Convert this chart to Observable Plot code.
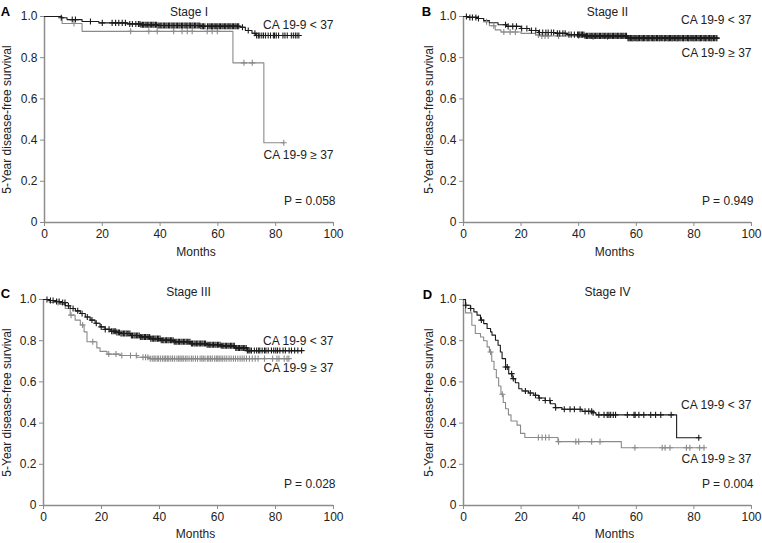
<!DOCTYPE html>
<html><head><meta charset="utf-8">
<script src="https://cdn.jsdelivr.net/npm/d3@7"></script>
<script src="https://cdn.jsdelivr.net/npm/@observablehq/plot@0.6"></script>
<style>
body{margin:0;background:#fff;}
#wrap{position:relative;width:762px;height:543px;overflow:hidden;background:#fff;}
.panel{position:absolute;}
</style></head><body><div id="wrap"></div>
<script>
// ---------- shared labels ----------
const xTicks = [0, 20, 40, 60, 80, 100];
const yTicks = [0, 0.2, 0.4, 0.6, 0.8, 1.0];
const seriesNames = ["CA 19-9 < 37", "CA 19-9 ≥ 37"];
const panelLetters = ["A", "B", "C", "D"];
const stageTitles = ["Stage I", "Stage II", "Stage III", "Stage IV"];
const pValues = ["P = 0.058", "P = 0.949", "P = 0.028", "P = 0.004"];
const yTitle = "5-Year disease-free survival";
const xTitle = "Months";

// ---------- Stage I ----------
const s1LowTime = [0, 5.8, 7.8, 13, 18.8, 28.6, 33.2, 39, 54, 67.8, 69.5, 71.8, 73, 88];
const s1LowSurv = [1, 0.994, 0.985, 0.976, 0.969, 0.964, 0.96, 0.956, 0.953, 0.948, 0.932, 0.919, 0.908, 0.908];
const s1LowCensor = [5.8, 9.6, 10.7, 15.9, 20, 23.4, 24.6, 25.7, 26.9, 28, 29.5, 30.4, 31.6, 32.5,
  33.0, 33.4, 33.9, 34.3, 34.8, 35.2, 35.7, 36.1, 36.6, 37.0, 37.5, 37.9, 38.4, 38.8, 39.3, 39.7, 40.2, 40.6, 41.1, 41.5,
  42.0, 42.4, 42.9, 43.3, 43.8, 44.2, 44.7, 45.1, 45.6, 46.0, 46.5, 46.9, 47.4, 47.8, 48.3, 48.7, 49.2, 49.6, 50.1, 50.5,
  51.0, 51.4, 51.9, 52.3, 52.8, 53.2, 53.7, 54.1, 54.6, 55.0, 55.5, 56.4, 56.9, 57.3, 57.8, 58.2, 58.7, 59.1, 59.6, 60.0,
  60.5, 60.9, 61.4, 61.8, 62.3, 62.7, 63.2, 63.6, 64.1, 64.5, 65.0, 65.4, 65.9, 66.3, 66.8, 67.2,
  68.5, 70.5, 72.8, 73.4, 74.0, 74.5, 75.2, 75.8, 76.5, 77.4, 78.2, 79.2, 79.6, 80.2, 81, 82.5, 83.2, 84, 85.4, 86.1, 86.8, 87.4, 88];
const s1HighTime = [0, 6.1, 13, 65.2, 75.9, 82.8];
const s1HighSurv = [1, 0.966, 0.928, 0.775, 0.387, 0.387];
const s1HighCensor = [10.2, 29.8, 36.1, 39, 44.7, 47.6, 49.4, 51.1, 56.3, 58, 59.8, 69, 71.9, 82.8];

// ---------- Stage II ----------
const s2LowTime = [0, 2, 5, 7, 9, 12, 15, 20, 23, 26, 32, 36, 42, 57, 88];
const s2LowSurv = [1, 0.995, 0.99, 0.98, 0.97, 0.96, 0.952, 0.942, 0.932, 0.922, 0.918, 0.912, 0.906, 0.895, 0.895];
const s2LowCensor = [1, 2.2, 3.1, 4.3, 5.2, 14.6, 15.5, 17.1, 18.4, 20.2, 22, 23.6, 25.1, 26.4, 27.5, 28.6, 29.4, 30.5, 31.3,
  32.6, 33.4, 34.5, 35.3, 36.6, 37.4, 38.5, 39.6,
  40.0, 40.4, 40.9, 41.3, 41.8, 42.2, 42.7, 43.1, 43.6, 44.0, 44.5, 44.9, 45.4, 45.8, 46.3, 46.7, 47.2, 47.6, 48.1, 48.5,
  49.0, 49.4, 49.9, 50.3, 50.8, 51.2, 51.7, 52.1, 52.6, 53.0, 53.5, 53.9, 54.4, 54.8, 55.3, 55.7, 56.2, 56.6, 57.1, 57.5,
  58.0, 58.4, 58.9, 59.3, 59.8, 60.2, 60.7, 61.1, 61.6, 62.0, 62.5, 62.9, 63.4, 63.8, 64.3, 64.7, 65.2, 65.6, 66.1, 66.5,
  67.0, 67.4, 67.9, 68.3, 68.8, 69.2, 69.7, 70.1, 70.6, 71.0, 71.5, 71.9, 72.4, 72.8, 73.3, 73.7, 74.2, 74.6, 75.1, 75.5,
  76.0, 76.4, 76.9, 77.3, 77.8, 78.2, 78.7, 79.1, 79.6, 80.0, 80.5, 80.9, 81.4, 81.8, 82.3, 82.7, 83.2, 83.6, 84.1, 84.5,
  85.0, 85.4, 85.9, 86.3, 86.8, 87.2, 87.7, 88];
const s2HighTime = [0, 5, 7, 9, 11, 13, 20, 25, 27, 42, 57, 86];
const s2HighSurv = [1, 0.99, 0.975, 0.955, 0.935, 0.925, 0.918, 0.91, 0.905, 0.9, 0.893, 0.893];
const s2HighCensor = [8, 10.5, 14, 16.2, 18, 26, 27.2, 28.3, 29.4, 33, 40, 45, 50, 57.5, 58.6, 60.3, 62.2, 64, 66.1, 68, 69.8, 71.2, 72.4, 74.1, 76.3, 78.2, 80, 82.1, 84, 86];

// ---------- Stage III ----------
const s3LowTime = [0, 2, 4, 5.8, 7.5, 9.2, 11, 12.7, 14.4, 16.1, 17.8, 19.5, 21.2, 23, 25, 26.5, 30, 33.4, 37, 40.3, 45, 50.6, 56, 61, 66, 70.2, 89];
const s3LowSurv = [1, 0.995, 0.99, 0.985, 0.97, 0.956, 0.945, 0.932, 0.915, 0.9, 0.885, 0.867, 0.855, 0.846, 0.84, 0.835, 0.825, 0.818, 0.81, 0.802, 0.795, 0.786, 0.78, 0.775, 0.765, 0.752, 0.752];
const s3LowCensor = [1.2, 2.4, 3.3, 4.5, 5.4, 6.6, 7.4, 8.6, 10.2, 11.8, 13.3, 15.1, 16.7, 18.2, 19.9, 21.3, 22.6, 23.5,
  24.0, 24.4, 24.9, 25.3, 25.8, 26.2, 26.7, 27.1, 27.6, 28.0, 28.5, 28.9, 29.4, 29.8, 30.3, 30.7, 31.2, 31.6, 32.1, 32.5,
  33.0, 33.4, 33.9, 34.3, 34.8, 35.2, 35.7, 36.1, 36.6, 37.0, 37.5, 37.9, 38.4, 38.8, 39.3, 39.7, 40.2, 40.6, 41.1, 41.5,
  42.0, 42.4, 42.9, 43.3, 43.8, 44.2, 44.7, 45.1, 45.6, 46.0, 46.5, 46.9, 47.4, 47.8, 48.3, 48.7, 49.2, 49.6, 50.1, 50.5,
  51.0, 51.4, 51.9, 52.3, 52.8, 53.2, 53.7, 54.1, 54.6, 55.0, 55.5, 55.9, 56.4, 56.8, 57.3, 57.7, 58.2, 58.6, 59.1, 59.5,
  60.0, 60.4, 60.9, 61.3, 61.8, 62.2, 62.7, 63.1, 63.6, 64.0, 64.5, 64.9, 65.4, 65.8, 66.3, 66.7, 67.2, 67.6, 68.1, 68.5,
  69.0, 69.4, 69.9, 70.3, 70.8, 71.2, 71.7,
  72.7, 73.5, 74.2, 74.6, 75.4, 76.2, 76.7, 77.5, 78.6, 79.4, 80.1, 80.7, 81.5, 82.6, 83.4, 84.7, 85.5, 86.6, 87.7, 89];
const s3HighTime = [0, 2, 5.8, 7.5, 9.2, 10.9, 12.7, 14, 15, 18.4, 19.5, 21.9, 26.5, 32.2, 36.8, 84.6];
const s3HighSurv = [1, 0.986, 0.976, 0.956, 0.924, 0.9, 0.876, 0.843, 0.795, 0.765, 0.748, 0.735, 0.728, 0.72, 0.713, 0.713];
const s3HighCensor = [5, 9.5, 13.5, 17, 22.5, 25, 27, 30, 32, 34.3, 35.2, 36, 36.8, 37.5, 38.1, 38.5, 39.2, 39.6, 40.3, 41,
  41.6, 42.1, 42.7, 43.2, 43.9, 44.5, 45.2, 46, 46.6, 47.1, 47.7, 48.2, 48.9, 49.5, 50.2, 51, 51.6, 52.4, 53.1, 54, 54.6,
  55.1, 55.7, 56.5, 57, 57.6, 58.2, 59, 59.6, 60.1, 60.6, 61.2, 61.8, 62.5, 63.2, 64, 64.7, 65.5, 66.2, 67, 67.8, 68.5,
  69.2, 70, 71, 72, 73, 74, 76.2, 79, 80.5, 81.2, 83, 84, 84.6];

// ---------- Stage IV ----------
const s4LowTime = [0, 0.7, 2.4, 3.6, 4.7, 5.9, 7, 8.2, 9.4, 9.9, 11.1, 12, 12.8, 13.4, 14.6, 15.7, 16.9, 18, 19.2, 20.3, 22.6, 24.4, 26.1, 28.4, 30.2, 31.9, 34.2, 41.1, 44.6, 46, 74, 82.1];
const s4LowSurv = [1, 0.972, 0.956, 0.94, 0.924, 0.9, 0.883, 0.859, 0.843, 0.827, 0.802, 0.778, 0.745, 0.713, 0.672, 0.64, 0.616, 0.596, 0.567, 0.556, 0.546, 0.535, 0.522, 0.51, 0.494, 0.475, 0.467, 0.457, 0.45, 0.44, 0.329, 0.329];
const s4LowCensor = [0.8, 2.5, 6.2, 14.6, 15.2, 16.7, 17.3, 21.5, 23.2, 25, 26.3, 28.4, 30, 32, 35, 37, 38.5, 40.5, 42.2, 43.5, 44.5, 45, 47, 48.8, 49.9, 50.5, 51.1, 52, 52.8, 56.9, 59.2, 59.6, 60.9, 62.6, 65, 66.7, 68.5, 72.1, 81.7];
const s4HighTime = [0, 0.7, 2.9, 4.1, 5.9, 7, 8.2, 9, 9.8, 10.6, 11.4, 12.2, 13, 13.8, 14.6, 15.6, 16.5, 18.6, 19.8, 21.3, 32.8, 54.8, 83.7];
const s4HighSurv = [1, 0.935, 0.875, 0.835, 0.818, 0.8, 0.77, 0.745, 0.7, 0.66, 0.62, 0.58, 0.54, 0.5, 0.47, 0.44, 0.41, 0.39, 0.35, 0.33, 0.31, 0.28, 0.28];
const s4HighCensor = [9.4, 13.5, 26, 27.3, 28.5, 29.7, 33, 39, 40, 44.5, 47.4, 59.5, 69, 70, 71.7, 77.4, 78.6, 82, 83.5];

// ---------- helpers ----------
const stages = [
  {low: [s1LowTime, s1LowSurv, s1LowCensor], high: [s1HighTime, s1HighSurv, s1HighCensor]},
  {low: [s2LowTime, s2LowSurv, s2LowCensor], high: [s2HighTime, s2HighSurv, s2HighCensor]},
  {low: [s3LowTime, s3LowSurv, s3LowCensor], high: [s3HighTime, s3HighSurv, s3HighCensor]},
  {low: [s4LowTime, s4LowSurv, s4LowCensor], high: [s4HighTime, s4HighSurv, s4HighCensor]}
];
function stepAt(times, surv, t) {
  let v = surv[0];
  for (let i = 0; i < times.length; i++) if (times[i] <= t) v = surv[i];
  return v;
}
const FONT = "'Liberation Sans', Arial, Helvetica, sans-serif";
const AXIS = "#8c8c8c";
const INK = "#222";

// layout for each panel (pixel geometry only)
const layouts = [
  {left: 0,   top: 0,   w: 381, h: 270, ml: 44, mr: 48, mt: 16, mb: 48, titleDy: -9,  letterDx: -39, letterDy: -10, yTitleDx: -37, xTitleDy: 33,
   lowLab: 0.956, highLab: 0.325},
  {left: 381, top: 0,   w: 381, h: 270, ml: 82, mr: 11, mt: 16, mb: 48, titleDy: -9,  letterDx: -37, letterDy: -10, yTitleDx: -34, xTitleDy: 33,
   lowLab: 0.98, highLab: 0.82},
  {left: 0,   top: 270, w: 381, h: 273, ml: 43, mr: 48, mt: 29, mb: 38, titleDy: -12, letterDx: -38, letterDy: -11, yTitleDx: -36, xTitleDy: 32,
   lowLab: 0.80, highLab: 0.665},
  {left: 381, top: 270, w: 381, h: 273, ml: 82, mr: 11, mt: 29, mb: 38, titleDy: -12, letterDx: -36, letterDy: -10, yTitleDx: -34, xTitleDy: 32,
   lowLab: 0.486, highLab: 0.227}
];

const wrap = document.getElementById("wrap");

stages.forEach((st, i) => {
  const L = layouts[i];
  const curves = [];
  const censors = [];
  // gray (high) first so black draws on top
  [["high", seriesNames[1]], ["low", seriesNames[0]]].forEach(([key, name]) => {
    const [ts, ss, cs] = st[key];
    ts.forEach((t, j) => curves.push({t, s: ss[j], g: name}));
    cs.forEach(t => censors.push({t, s: stepAt(ts, ss, t), g: name}));
  });
  const labels = [
    {x: 100, y: L.lowLab, text: seriesNames[0]},
    {x: 100, y: L.highLab, text: seriesNames[1]}
  ];
  const chart = Plot.plot({
    width: L.w, height: L.h,
    marginLeft: L.ml, marginRight: L.mr, marginTop: L.mt, marginBottom: L.mb,
    style: {fontFamily: FONT, fontSize: "12px", color: INK, background: "transparent", overflow: "visible"},
    x: {domain: [0, 100]},
    y: {domain: [0, 1]},
    color: {domain: seriesNames, range: ["#1b1b1b", "#8a8a8a"]},
    marks: [
      Plot.axisX({ticks: xTicks, tickSize: 4, tickPadding: 3, stroke: AXIS, fill: INK, label: null, fontSize: 12}),
      Plot.axisY({ticks: yTicks, tickSize: 4, tickPadding: 3, stroke: AXIS, fill: INK, label: null, fontSize: 12,
                  tickFormat: d => d === 0 ? "0" : d.toFixed(1)}),
      Plot.ruleX([0], {stroke: AXIS, strokeWidth: 1.5}),
      Plot.ruleY([0], {stroke: AXIS, strokeWidth: 1.5}),
      Plot.line(curves, {x: "t", y: "s", z: "g", stroke: "g", curve: "step-after", strokeWidth: 1.1}),
      Plot.dot(censors, {x: "t", y: "s", stroke: "g", symbol: "plus", r: 2.1, strokeWidth: 1.1}),
      Plot.text(labels, {x: "x", y: "y", text: "text", textAnchor: "end", fill: INK, fontSize: 12}),
      Plot.text([pValues[i]], {frameAnchor: "bottom-right", dx: 2, dy: -18, textAnchor: "end", fill: INK, fontSize: 12}),
      Plot.text([stageTitles[i]], {frameAnchor: "top", dy: L.titleDy, textAnchor: "middle", fill: INK, fontSize: 12}),
      Plot.text([panelLetters[i]], {frameAnchor: "top-left", dx: L.letterDx, dy: L.letterDy, textAnchor: "middle", fill: "#000", fontSize: 13, fontWeight: "bold"}),
      Plot.text([yTitle], {frameAnchor: "left", dx: L.yTitleDx, rotate: -90, textAnchor: "middle", fill: INK, fontSize: 12}),
      Plot.text([xTitle], {frameAnchor: "bottom", dy: L.xTitleDy, dx: 7, textAnchor: "middle", fill: INK, fontSize: 12})
    ]
  });
  const div = document.createElement("div");
  div.className = "panel";
  div.style.left = L.left + "px";
  div.style.top = L.top + "px";
  div.appendChild(chart);
  wrap.appendChild(div);
});
</script>
</body></html>
